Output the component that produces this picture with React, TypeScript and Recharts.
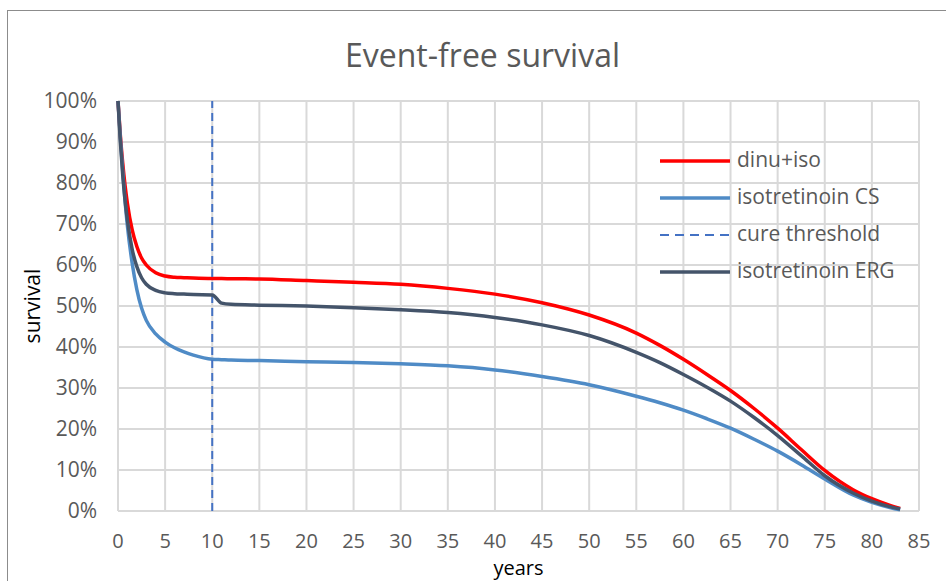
import { LineChart, Line, XAxis, YAxis, CartesianGrid, Label } from 'recharts';

const FONT = '"Open Sans", "Noto Sans", sans-serif';

// years since diagnosis
const years = [0, 0.25, 0.5, 0.75, 1, 1.5, 2, 2.5, 3, 4, 5, 6, 7, 8, 10, 11, 12, 15, 20, 25, 30, 35, 40, 45, 50, 55, 57.5, 60, 62.5, 65, 67.5, 70, 72.5, 75, 78, 80, 82, 83];

// event-free survival, %
const dinuIso = [100, 91.6, 84.9, 79.4, 75.0, 68.6, 64.5, 61.7, 60.0, 58.1, 57.3, 57.0, 56.9, 56.8, 56.7, 56.7, 56.65, 56.6, 56.2, 55.8, 55.3, 54.3, 52.9, 50.8, 47.8, 43.4, 40.4, 37.0, 33.3, 29.4, 25.0, 20.2, 15.0, 9.9, 5.2, 3.0, 1.3, 0.6];
const isoCS = [100, 91.0, 83.0, 75.5, 69.5, 60.5, 54.0, 49.5, 46.5, 43.2, 41.2, 39.8, 38.8, 38.0, 37.0, 36.9, 36.8, 36.7, 36.4, 36.2, 35.9, 35.4, 34.4, 32.8, 30.8, 28.0, 26.4, 24.6, 22.5, 20.2, 17.5, 14.6, 11.3, 7.8, 3.9, 2.1, 0.8, 0.3];
const isoERG = [100, 90.0, 82.0, 75.8, 70.9, 63.9, 59.6, 56.9, 55.3, 53.8, 53.2, 53.0, 52.9, 52.8, 52.7, 50.7, 50.4, 50.2, 50.0, 49.6, 49.1, 48.4, 47.2, 45.4, 42.8, 38.7, 36.2, 33.3, 30.2, 26.8, 22.8, 18.4, 13.5, 8.6, 4.4, 2.4, 1.0, 0.5];

const cureYears = [10, 10];
const cureLevels = [0, 100];

const xTicks = [0, 5, 10, 15, 20, 25, 30, 35, 40, 45, 50, 55, 60, 65, 70, 75, 80, 85];
const yTicks = [0, 10, 20, 30, 40, 50, 60, 70, 80, 90, 100];

const data = years.map((x, i) => ({ x, dinu: dinuIso[i], cs: isoCS[i], erg: isoERG[i] }));
const cureData = cureYears.map((x, i) => ({ x, cure: cureLevels[i] }));

const legendItems = [
  { name: 'dinu+iso', color: '#ff0000', dash: undefined, width: 3.5 },
  { name: 'isotretinoin CS', color: '#4f8bc6', dash: undefined, width: 3.5 },
  { name: 'cure threshold', color: '#4472c4', dash: '9 6', width: 2 },
  { name: 'isotretinoin ERG', color: '#44546a', dash: undefined, width: 3.5 },
];

export default function App() {
  return (
    <div style={{ position: 'absolute', left: 0, top: 0, width: 946, height: 581, overflow: 'hidden', background: '#fff', fontFamily: FONT }}>
      <div style={{ position: 'absolute', left: 7, top: 10, width: 960, height: 600, borderLeft: '1px solid #8c8c8c', borderTop: '1px solid #8c8c8c' }} />
      <LineChart width={946} height={581} data={data} margin={{ top: 101, right: 27, bottom: 0, left: 0 }}>
        <CartesianGrid stroke="#d9d9d9" strokeWidth={2} />
        <XAxis
          dataKey="x"
          type="number"
          domain={[0, 85]}
          ticks={xTicks}
          interval={0}
          height={70}
          tickSize={0}
          tickMargin={23}
          axisLine={false}
          tick={{ fill: '#595959', fontSize: 20, fontFamily: FONT }}
        >
          <Label value="years" position="insideBottom" offset={6} fill="#000" fontSize={20} fontFamily={FONT} />
        </XAxis>
        <YAxis
          type="number"
          domain={[0, 100]}
          ticks={yTicks}
          interval={0}
          width={118}
          tickSize={0}
          tickMargin={21}
          axisLine={false}
          tickFormatter={(v) => `${v}%`}
          tick={{ fill: '#595959', fontSize: 21, fontFamily: FONT }}
        >
          <Label
            content={() => (
              <text x={40} y={306} transform="rotate(-90 40 306)" textAnchor="middle" fill="#000" fontSize={21} fontFamily={FONT}>
                survival
              </text>
            )}
          />
        </YAxis>
        <Line dataKey="dinu" name="dinu+iso" type="monotone" stroke="#ff0000" strokeWidth={3.5} dot={false} isAnimationActive={false} />
        <Line dataKey="cs" name="isotretinoin CS" type="monotone" stroke="#4f8bc6" strokeWidth={3.5} dot={false} isAnimationActive={false} />
        <Line data={cureData} dataKey="cure" name="cure threshold" type="linear" stroke="#4472c4" strokeWidth={2} strokeDasharray="8 5" dot={false} isAnimationActive={false} />
        <Line dataKey="erg" name="isotretinoin ERG" type="monotone" stroke="#44546a" strokeWidth={3.5} dot={false} isAnimationActive={false} />
      </LineChart>
      <div style={{ position: 'absolute', left: 0, top: 33, width: 965, textAlign: 'center', fontSize: 32, lineHeight: 'normal', color: '#595959' }}>
        Event-free survival
      </div>
      <div style={{ position: 'absolute', left: 660, top: 142 }}>
        {legendItems.map((it) => (
          <div key={it.name} style={{ display: 'flex', alignItems: 'center', height: 37 }}>
            <svg width={70} height={6} style={{ display: 'block' }}>
              <line x1={0} y1={3} x2={70} y2={3} stroke={it.color} strokeWidth={it.width} strokeDasharray={it.dash} />
            </svg>
            <span style={{ marginLeft: 7, fontSize: 21, color: '#595959', position: 'relative', top: -2, whiteSpace: 'nowrap' }}>{it.name}</span>
          </div>
        ))}
      </div>
    </div>
  );
}
